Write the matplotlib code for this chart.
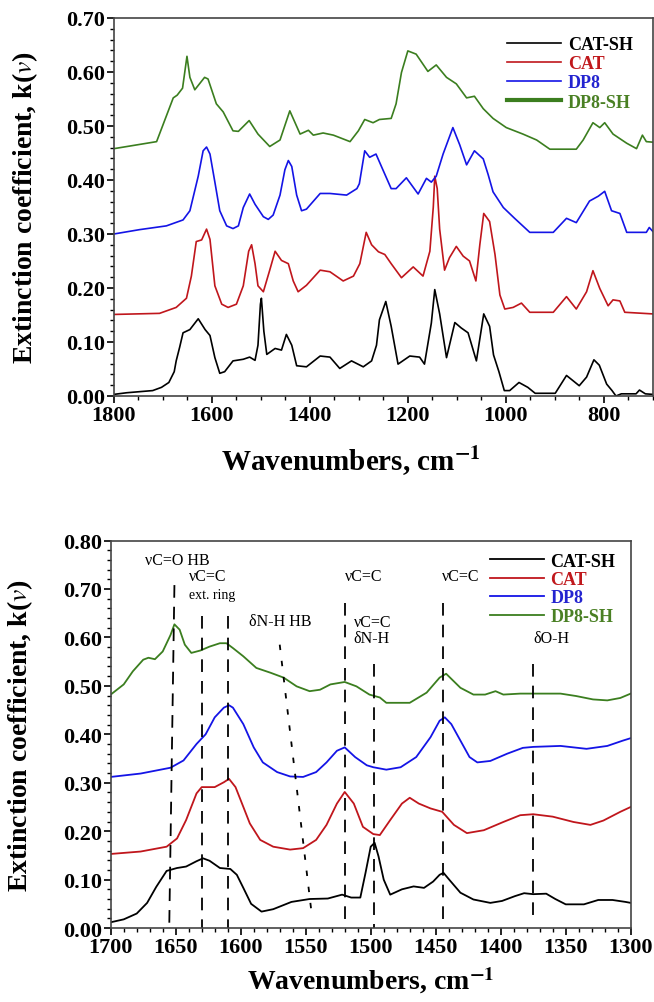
import matplotlib
matplotlib.use('Agg')
import matplotlib.pyplot as plt
from matplotlib.ticker import MultipleLocator, FormatStrFormatter

plt.rcParams['font.family'] = ['Liberation Serif', 'DejaVu Serif']
plt.rcParams['mathtext.fontset'] = 'stix'

# ---- top panel: full spectra (wavenumber, k) ----
top_catsh_w = [1800, 1774, 1721, 1703, 1688, 1677, 1673, 1666, 1659, 1645, 1628, 1614, 1604, 1594, 1584, 1574,
               1557, 1536, 1523, 1512, 1506, 1501, 1499, 1494, 1488, 1471, 1458, 1448, 1437, 1427, 1407, 1379,
               1359, 1339, 1315, 1291, 1274, 1264, 1258, 1245, 1234, 1220, 1196, 1176, 1166, 1152, 1145, 1135,
               1121, 1104, 1091, 1077, 1060, 1045, 1033, 1025, 1014, 1003, 992, 973, 955, 940, 899, 876, 865,
               850, 835, 820, 809, 794, 783, 775, 764, 734, 727, 715, 700]
top_catsh_k = [0.003, 0.006, 0.010, 0.016, 0.025, 0.045, 0.065, 0.090, 0.117, 0.123, 0.143, 0.123, 0.112, 0.071,
               0.042, 0.045, 0.065, 0.068, 0.072, 0.066, 0.094, 0.170, 0.181, 0.120, 0.077, 0.088, 0.085, 0.114,
               0.094, 0.056, 0.054, 0.074, 0.072, 0.051, 0.065, 0.054, 0.065, 0.094, 0.141, 0.175, 0.129, 0.059,
               0.074, 0.072, 0.059, 0.135, 0.197, 0.152, 0.071, 0.136, 0.126, 0.117, 0.065, 0.152, 0.129, 0.076,
               0.045, 0.010, 0.010, 0.025, 0.016, 0.005, 0.005, 0.038, 0.030, 0.019, 0.035, 0.067, 0.057, 0.022,
               0.010, 0.000, 0.004, 0.004, 0.011, 0.004, 0.003]

top_cat_w = [1800, 1707, 1673, 1652, 1642, 1632, 1621, 1611, 1604, 1594, 1580, 1567, 1550, 1536, 1525, 1519,
             1512, 1506, 1495, 1482, 1471, 1458, 1444, 1434, 1424, 1407, 1379, 1359, 1332, 1311, 1298, 1285,
             1274, 1260, 1247, 1234, 1213, 1189, 1169, 1155, 1148, 1145, 1140, 1135, 1125, 1115, 1101, 1087,
             1074, 1061, 1053, 1045, 1033, 1022, 1012, 1002, 985, 968, 951, 903, 876, 856, 835, 822, 808, 791,
             781, 767, 757, 700]
top_cat_k = [0.151, 0.153, 0.164, 0.181, 0.222, 0.286, 0.289, 0.309, 0.290, 0.204, 0.170, 0.164, 0.170, 0.204,
             0.268, 0.280, 0.245, 0.204, 0.193, 0.233, 0.268, 0.251, 0.245, 0.213, 0.193, 0.205, 0.233, 0.230,
             0.213, 0.222, 0.245, 0.303, 0.280, 0.267, 0.262, 0.245, 0.219, 0.239, 0.222, 0.268, 0.350, 0.407,
             0.384, 0.309, 0.233, 0.256, 0.277, 0.259, 0.250, 0.213, 0.280, 0.338, 0.323, 0.262, 0.187, 0.161,
             0.164, 0.172, 0.155, 0.155, 0.184, 0.161, 0.193, 0.232, 0.199, 0.167, 0.178, 0.176, 0.155, 0.152]

top_dp8_w = [1800, 1748, 1693, 1659, 1645, 1628, 1618, 1611, 1604, 1594, 1584, 1570, 1557, 1546, 1536, 1523,
             1512, 1495, 1485, 1475, 1461, 1451, 1444, 1437, 1427, 1417, 1407, 1379, 1359, 1325, 1304, 1299,
             1288, 1278, 1265, 1251, 1234, 1224, 1203, 1179, 1162, 1152, 1142, 1128, 1108, 1094, 1080, 1064,
             1046, 1036, 1026, 1005, 982, 951, 903, 876, 856, 829, 811, 798, 784, 767, 753, 713, 707, 700]
top_dp8_k = [0.300, 0.308, 0.315, 0.326, 0.343, 0.407, 0.454, 0.461, 0.448, 0.396, 0.343, 0.315, 0.310, 0.315,
             0.349, 0.374, 0.355, 0.332, 0.327, 0.335, 0.372, 0.419, 0.436, 0.425, 0.372, 0.343, 0.346, 0.375,
             0.375, 0.372, 0.384, 0.393, 0.454, 0.442, 0.448, 0.419, 0.384, 0.384, 0.404, 0.374, 0.403, 0.396,
             0.407, 0.448, 0.497, 0.465, 0.428, 0.454, 0.439, 0.410, 0.378, 0.349, 0.329, 0.303, 0.303, 0.329,
             0.321, 0.361, 0.370, 0.379, 0.343, 0.338, 0.303, 0.303, 0.312, 0.305]

top_dp8sh_w = [1800, 1713, 1679, 1671, 1660, 1651, 1645, 1635, 1615, 1608, 1591, 1577, 1557, 1546, 1524, 1506,
               1482, 1461, 1441, 1420, 1403, 1393, 1373, 1352, 1318, 1301, 1288, 1271, 1258, 1234, 1224, 1213,
               1200, 1183, 1159, 1142, 1121, 1101, 1080, 1064, 1046, 1026, 999, 965, 937, 910, 856, 842, 822,
               808, 798, 781, 753, 733, 721, 713, 700]
top_dp8sh_k = [0.458, 0.471, 0.552, 0.557, 0.570, 0.629, 0.590, 0.567, 0.590, 0.587, 0.541, 0.526, 0.491, 0.490,
               0.510, 0.485, 0.462, 0.474, 0.528, 0.485, 0.492, 0.483, 0.487, 0.483, 0.471, 0.491, 0.512, 0.506,
               0.512, 0.514, 0.541, 0.599, 0.639, 0.633, 0.601, 0.613, 0.590, 0.578, 0.552, 0.555, 0.532, 0.514,
               0.497, 0.485, 0.474, 0.457, 0.457, 0.474, 0.506, 0.497, 0.506, 0.485, 0.468, 0.458, 0.483, 0.471,
               0.470]

# ---- bottom panel: 1700-1300 region ----
bot_catsh_w = [1700, 1690, 1680, 1672, 1665, 1657, 1649, 1642, 1634, 1629, 1624, 1616, 1608, 1603, 1598, 1592,
               1584, 1575, 1561, 1547, 1533, 1522, 1515, 1508, 1504, 1500, 1497, 1494, 1490, 1485, 1476, 1467,
               1459, 1452, 1447, 1444, 1439, 1431, 1421, 1408, 1399, 1389, 1382, 1375, 1365, 1358, 1350, 1336,
               1325, 1314, 1304, 1300]
bot_catsh_k = [0.012, 0.018, 0.030, 0.052, 0.085, 0.118, 0.124, 0.127, 0.138, 0.144, 0.139, 0.124, 0.122, 0.110,
               0.083, 0.050, 0.034, 0.039, 0.054, 0.060, 0.061, 0.069, 0.063, 0.063, 0.114, 0.168, 0.176, 0.148,
               0.100, 0.069, 0.080, 0.086, 0.083, 0.096, 0.110, 0.114, 0.098, 0.073, 0.059, 0.052, 0.056, 0.066,
               0.072, 0.070, 0.071, 0.060, 0.049, 0.049, 0.058, 0.058, 0.054, 0.052]

bot_cat_w = [1700, 1677, 1657, 1649, 1642, 1634, 1630, 1620, 1613, 1609, 1604, 1599, 1593, 1585, 1575, 1562,
             1552, 1542, 1534, 1526, 1520, 1513, 1506, 1498, 1493, 1485, 1476, 1470, 1463, 1454, 1445, 1436,
             1426, 1413, 1398, 1385, 1375, 1360, 1344, 1331, 1321, 1308, 1300]
bot_cat_k = [0.153, 0.158, 0.168, 0.185, 0.223, 0.278, 0.291, 0.291, 0.301, 0.308, 0.291, 0.257, 0.216, 0.182,
             0.168, 0.162, 0.165, 0.182, 0.213, 0.257, 0.281, 0.257, 0.209, 0.194, 0.192, 0.223, 0.257, 0.269,
             0.257, 0.247, 0.240, 0.213, 0.196, 0.202, 0.219, 0.233, 0.235, 0.230, 0.219, 0.213, 0.222, 0.240,
             0.250]

bot_dp8_w = [1700, 1677, 1654, 1644, 1634, 1627, 1620, 1613, 1609, 1606, 1598, 1590, 1583, 1572, 1562, 1552,
             1542, 1534, 1526, 1520, 1512, 1503, 1498, 1488, 1477, 1465, 1454, 1447, 1443, 1438, 1431, 1424,
             1418, 1408, 1395, 1383, 1375, 1354, 1334, 1318, 1306, 1300]
bot_dp8_k = [0.312, 0.319, 0.331, 0.346, 0.380, 0.400, 0.435, 0.455, 0.460, 0.455, 0.421, 0.373, 0.342, 0.322,
             0.313, 0.312, 0.322, 0.342, 0.366, 0.373, 0.353, 0.336, 0.332, 0.327, 0.332, 0.353, 0.394, 0.428,
             0.435, 0.421, 0.387, 0.353, 0.342, 0.345, 0.360, 0.372, 0.374, 0.376, 0.370, 0.376, 0.387, 0.392]

bot_dp8sh_w = [1700, 1690, 1683, 1675, 1671, 1666, 1660, 1654, 1651, 1647, 1643, 1638, 1631, 1624, 1616, 1611,
               1606, 1598, 1588, 1577, 1567, 1557, 1547, 1539, 1531, 1520, 1511, 1501, 1493, 1488, 1470, 1457,
               1447, 1442, 1431, 1421, 1412, 1404, 1398, 1385, 1354, 1342, 1329, 1318, 1308, 1300]
bot_dp8sh_k = [0.482, 0.503, 0.530, 0.554, 0.558, 0.555, 0.571, 0.605, 0.627, 0.616, 0.585, 0.568, 0.573, 0.581,
               0.588, 0.588, 0.578, 0.561, 0.537, 0.527, 0.517, 0.499, 0.489, 0.492, 0.503, 0.508, 0.499, 0.482,
               0.476, 0.465, 0.465, 0.486, 0.517, 0.525, 0.496, 0.482, 0.482, 0.489, 0.482, 0.484, 0.484, 0.479,
               0.472, 0.470, 0.475, 0.484]

series_names = ['CAT-SH', 'CAT', 'DP8', 'DP8-SH']
line_colors = ['#000000', '#c0161c', '#1414e6', '#3b7e1f']
text_colors = ['#000000', '#c0181c', '#2424d0', '#4a8024']

# band assignments in the bottom panel: (label, x, y) and guide lines (w_top, k_top, w_bottom, k_bottom)
band_labels = ['\u03bdC=O HB', '\u03bdC=C', 'ext. ring', '\u03b4N-H HB', '\u03bdC=C', '\u03bdC=C\n\u03b4N-H',
               '\u03bdC=C', '\u03b4O-H']
band_label_w = [1674, 1640, 1640, 1594, 1520, 1513, 1445, 1375]
band_label_k = [0.759, 0.726, 0.689, 0.633, 0.726, 0.615, 0.726, 0.598]
guide_w_top = [1651, 1630, 1609.5, 1570, 1520, 1497.5, 1444.6, 1375]
guide_k_top = [0.708, 0.645, 0.645, 0.585, 0.670, 0.545, 0.670, 0.545]
guide_w_bot = [1655, 1630, 1609.5, 1545, 1520, 1497.5, 1444.6, 1375]
guide_k_bot = [0.000, 0.000, 0.000, 0.020, 0.000, 0.000, 0.000, 0.010]

fig = plt.figure(figsize=(6.54, 10.03), dpi=100)
ax1 = fig.add_axes([0.1743, 0.6042, 0.8237, 0.3769])
ax2 = fig.add_axes([0.1693, 0.0737, 0.7951, 0.3864])

top_data = [(top_catsh_w, top_catsh_k), (top_cat_w, top_cat_k), (top_dp8_w, top_dp8_k), (top_dp8sh_w, top_dp8sh_k)]
bot_data = [(bot_catsh_w, bot_catsh_k), (bot_cat_w, bot_cat_k), (bot_dp8_w, bot_dp8_k), (bot_dp8sh_w, bot_dp8sh_k)]

for (w, k), name, c in zip(top_data, series_names, line_colors):
    ax1.plot(w, k, color=c, lw=1.2, label=name)
for (w, k), name, c in zip(bot_data, series_names, line_colors):
    ax2.plot(w, k, color=c, lw=1.3, label=name)

for i in range(len(guide_w_top)):
    ls = (0, (3, 6)) if i == 3 else (0, (7, 5))
    ax2.plot([guide_w_top[i], guide_w_bot[i]], [guide_k_top[i], guide_k_bot[i]], color='black', lw=1.3, ls=ls)
for i, txt in enumerate(band_labels):
    fs = 10 if txt == 'ext. ring' else 11.5
    ax2.text(band_label_w[i], band_label_k[i], txt, fontsize=fs, ha='left', va='center', linespacing=1.0)

tick_fs = 16
for ax, xmaj, xmin, ymax in [(ax1, 200, 50, 0.70), (ax2, 50, 10, 0.80)]:
    ax.set_ylim(0, ymax)
    ax.xaxis.set_major_locator(MultipleLocator(xmaj))
    ax.xaxis.set_minor_locator(MultipleLocator(xmin))
    ax.yaxis.set_major_locator(MultipleLocator(0.1))
    ax.yaxis.set_minor_locator(MultipleLocator(0.02))
    ax.yaxis.set_major_formatter(FormatStrFormatter('%.2f'))
    ax.tick_params(which='major', direction='out', length=5, width=1.2, labelsize=tick_fs, pad=1.5)
    ax.tick_params(which='minor', direction='out', length=3, width=1.0)
    for lab in ax.get_xticklabels() + ax.get_yticklabels():
        lab.set_fontweight('bold')
    for sp in ax.spines.values():
        sp.set_linewidth(1.2)
        sp.set_color('#444444')
    ax.set_ylabel('Extinction coefficient, k($\\mathit{v}$)', fontsize=20, fontweight='bold')

ax1.set_xlabel('Wavenumbers, cm$^{\\mathbf{-1}}$', fontsize=21, fontweight='bold')
ax2.set_xlabel('Wavenumbers, cm$^{\\mathbf{-1}}$', fontsize=20, fontweight='bold', labelpad=5)
ax1.set_xlim(1800, 700)
ax2.set_xlim(1700, 1300)
ax1.xaxis.set_label_coords(0.44, -0.125)
ax2.yaxis.set_label_coords(-0.146, 0.5)
ax1.yaxis.set_label_coords(-0.137, 0.5)

leg1 = ax1.legend(loc='upper left', bbox_to_anchor=(0.73, 0.952), frameon=False, borderpad=0, borderaxespad=0,
                  handlelength=3.0, handletextpad=0.35, labelspacing=0.12,
                  prop={'family': 'Liberation Serif', 'weight': 'bold', 'size': 13})
leg1.get_lines()[3].set_linewidth(3)
leg2 = ax2.legend(loc='upper left', bbox_to_anchor=(0.729, 0.969), frameon=False, borderpad=0, borderaxespad=0,
                  handlelength=3.0, handletextpad=0.35, labelspacing=0.08,
                  prop={'family': 'Liberation Serif', 'weight': 'bold', 'size': 13})
for leg in (leg1, leg2):
    for t, c in zip(leg.get_texts(), text_colors):
        t.set_color(c)

plt.savefig('out.png', dpi=100)
